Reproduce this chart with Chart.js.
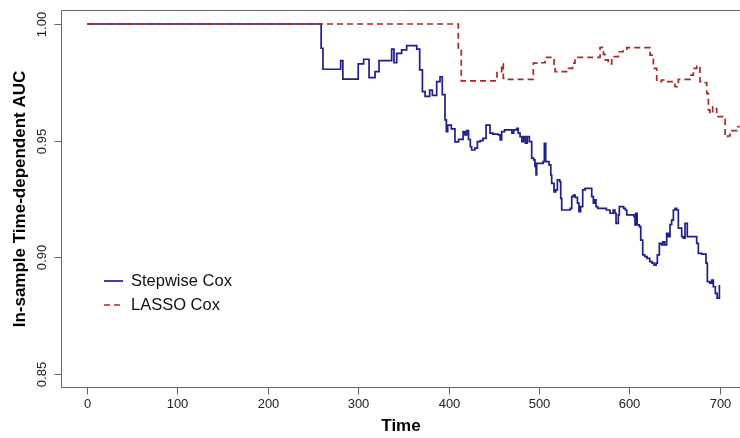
<!DOCTYPE html>
<html>
<head>
<meta charset="utf-8">
<script src="https://cdn.jsdelivr.net/npm/chart.js@4"></script>
<style>
  html, body { margin: 0; padding: 0; background: #fff; }
  #wrap { width: 740px; height: 438px; }
</style>
</head>
<body>
<div id="wrap"><canvas id="chart" width="740" height="438"></canvas></div>
<script>
// stepwise cox AUC over time
const stepTime = [0, 259, 261, 280.6, 283, 300, 306, 312, 318.6, 323, 337, 339.6, 342.6, 348, 353.6, 364.7, 368, 371, 374, 379, 382, 386.8, 390.5, 393, 396, 397.5, 399, 403, 407, 411, 416, 418, 420, 422, 424, 425.5, 429, 431.8, 435, 438, 441.4, 445.8, 449, 455, 457, 458.7, 462, 468, 470, 472, 475.3, 477, 479, 481, 483, 485, 487, 489.3, 491.9, 494, 495.5, 496.7, 497.4, 503, 504.5, 505.9, 507.4, 511, 513, 514, 516.6, 518.5, 520.3, 523, 524, 525.1, 532.5, 534.5, 536.2, 538, 540, 542.5, 544.2, 546, 548.3, 551, 558.3, 560.1, 561.5, 563, 565, 574.5, 578.5, 582, 584, 585.2, 587.7, 588.8, 593.5, 595.5, 597, 603, 605, 606.2, 607, 608.5, 611, 612.5, 614.7, 617, 619.5, 622.5, 625, 627.2, 629.5, 630.9, 633.1, 635.5, 637, 639, 641.2, 643, 644.9, 646.7, 648.6, 650.5, 652.3, 654.1, 657.8, 659.6, 661.5, 664, 672.5, 674.4, 676.2, 680, 684.7, 686.2, 689, 691, 692.8, 695, 697, 699.5];
const stepAuc = [1.000, 0.9896, 0.9806, 0.9843, 0.9764, 0.9829, 0.9849, 0.977, 0.9796, 0.9843, 0.9892, 0.9834, 0.9874, 0.9889, 0.9907, 0.9892, 0.9803, 0.971, 0.969, 0.9717, 0.9694, 0.9753, 0.9774, 0.9697, 0.9589, 0.9539, 0.9567, 0.9551, 0.9495, 0.9506, 0.9539, 0.9525, 0.9543, 0.9505, 0.9474, 0.946, 0.9468, 0.9496, 0.95, 0.951, 0.9567, 0.9532, 0.9528, 0.9525, 0.9503, 0.9539, 0.9546, 0.9546, 0.9532, 0.9546, 0.9553, 0.9532, 0.9517, 0.9496, 0.9517, 0.9489, 0.9517, 0.9496, 0.9425, 0.9418, 0.939, 0.9353, 0.9403, 0.9403, 0.941, 0.9489, 0.941, 0.9396, 0.9353, 0.9317, 0.9281, 0.9289, 0.9332, 0.9324, 0.9253, 0.9203, 0.9203, 0.921, 0.926, 0.9267, 0.9257, 0.9232, 0.9196, 0.9217, 0.9289, 0.9296, 0.926, 0.9232, 0.9246, 0.9217, 0.921, 0.9203, 0.9189, 0.9203, 0.9189, 0.9146, 0.9182, 0.9217, 0.921, 0.9203, 0.9182, 0.9182, 0.9175, 0.9139, 0.9189, 0.9139, 0.9132, 0.9074, 0.9011, 0.9003, 0.8996, 0.8982, 0.8975, 0.8967, 0.8975, 0.9011, 0.906, 0.9053, 0.9067, 0.9053, 0.9103, 0.9089, 0.914, 0.916, 0.9203, 0.921, 0.9203, 0.9125, 0.9089, 0.9082, 0.9146, 0.9089, 0.9089, 0.906, 0.9017, 0.9014, 0.8975, 0.8896, 0.8889, 0.8903, 0.8874, 0.8846, 0.8825, 0.8882];

// lasso cox AUC over time
const lassoTime = [0, 410.7, 414, 453.5, 458.7, 460.5, 462, 493.7, 500, 506.6, 516.6, 517.8, 527, 532.4, 537, 539.8, 567.5, 571.2, 573, 576.5, 580.4, 587.7, 593, 597, 622.8, 626.5, 630.2, 635.5, 641, 650.4, 654.1, 667, 670.7, 674.4, 678, 681.7, 685.5, 687.3, 689, 692.1, 694.5, 696.5, 704, 705.8, 708.5, 711.3, 718.7, 722];
const lassoAuc = [1.000, 0.9892, 0.9756, 0.9796, 0.9829, 0.9767, 0.9763, 0.9832, 0.9834, 0.9857, 0.9824, 0.9796, 0.9796, 0.981, 0.9832, 0.9857, 0.99, 0.987, 0.9846, 0.9829, 0.986, 0.9881, 0.9885, 0.9899, 0.9867, 0.981, 0.9753, 0.976, 0.9753, 0.9731, 0.9763, 0.9781, 0.981, 0.982, 0.9753, 0.9749, 0.9703, 0.9632, 0.9617, 0.9645, 0.9638, 0.9603, 0.959, 0.9517, 0.952, 0.9543, 0.956, 0.956];

const xTicks = [0, 100, 200, 300, 400, 500, 600, 700];
const yTicks = [0.85, 0.90, 0.95, 1.00];
const yTickLabels = ["0.85", "0.90", "0.95", "1.00"];

const FONT = '"Liberation Sans", Arial, sans-serif';
const BLUE = "#1e1e8c";
const RED = "#a52a2a";

function toPoints(xs, ys) {
  return xs.map((x, i) => ({ x: x, y: ys[i] }));
}

// R-style box, ticks, labels and legend
const rAxes = {
  id: "rAxes",
  afterDraw(chart) {
    const ctx = chart.ctx;
    const a = chart.chartArea;
    const xs = chart.scales.x;
    const ys = chart.scales.y;
    ctx.save();

    ctx.strokeStyle = "#666";
    ctx.lineWidth = 1;
    ctx.beginPath();
    ctx.moveTo(a.right + 1, a.top - 0.5);
    ctx.lineTo(a.left - 0.5, a.top - 0.5);
    ctx.lineTo(a.left - 0.5, a.bottom + 0.5);
    ctx.lineTo(a.right + 1, a.bottom + 0.5);
    ctx.stroke();

    // x ticks
    ctx.fillStyle = "#222";
    ctx.font = "13px " + FONT;
    ctx.textAlign = "center";
    ctx.textBaseline = "middle";
    xTicks.forEach(v => {
      const px = Math.round(xs.getPixelForValue(v)) + 0.5;
      ctx.beginPath();
      ctx.moveTo(px, a.bottom + 0.5);
      ctx.lineTo(px, a.bottom + 7.5);
      ctx.stroke();
      ctx.fillText(String(v), px, a.bottom + 17);
    });

    // y ticks, labels turned like R's las=0
    yTicks.forEach((v, i) => {
      const py = Math.round(ys.getPixelForValue(v)) + 0.5;
      ctx.beginPath();
      ctx.moveTo(a.left - 0.5, py);
      ctx.lineTo(a.left - 7.5, py);
      ctx.stroke();
      ctx.save();
      ctx.translate(a.left - 20, py);
      ctx.rotate(-Math.PI / 2);
      ctx.fillText(yTickLabels[i], 0, 0);
      ctx.restore();
    });

    // titles
    ctx.fillStyle = "#000";
    ctx.font = "bold 17px " + FONT;
    ctx.fillText("Time", (a.left + a.right) / 2, a.bottom + 39);
    ctx.save();
    ctx.translate(20, (a.top + a.bottom) / 2);
    ctx.rotate(-Math.PI / 2);
    ctx.fillText("In-sample Time-dependent AUC", 0, 0);
    ctx.restore();

    // legend
    ctx.font = "16.5px " + FONT;
    ctx.textAlign = "left";
    ctx.fillStyle = "#111";
    ctx.lineWidth = 1.7;
    ctx.strokeStyle = BLUE;
    ctx.beginPath();
    ctx.moveTo(104, 281);
    ctx.lineTo(123, 281);
    ctx.stroke();
    ctx.fillText("Stepwise Cox", 131, 281);
    ctx.strokeStyle = RED;
    ctx.setLineDash([6, 4]);
    ctx.beginPath();
    ctx.moveTo(104, 305);
    ctx.lineTo(123, 305);
    ctx.stroke();
    ctx.setLineDash([]);
    ctx.fillText("LASSO Cox", 131, 305);

    ctx.restore();
  }
};

new Chart(document.getElementById("chart"), {
  type: "line",
  data: {
    datasets: [
      {
        label: "Stepwise Cox",
        data: toPoints(stepTime, stepAuc),
        borderColor: BLUE,
        borderWidth: 1.7,
        pointRadius: 0,
        stepped: true,
        fill: false,
        order: 2
      },
      {
        label: "LASSO Cox",
        data: toPoints(lassoTime, lassoAuc),
        borderColor: RED,
        borderWidth: 1.7,
        borderDash: [6, 4],
        pointRadius: 0,
        stepped: true,
        fill: false,
        order: 1
      }
    ]
  },
  options: {
    responsive: false,
    animation: false,
    layout: { padding: { left: 62, right: 0, top: 11, bottom: 51 } },
    plugins: {
      legend: { display: false },
      tooltip: { enabled: false }
    },
    scales: {
      x: { type: "linear", display: false, min: -27.65, max: 722.3 },
      y: { type: "linear", display: false, min: 0.84445, max: 1.00557 }
    }
  },
  plugins: [rAxes]
});
</script>
</body>
</html>
